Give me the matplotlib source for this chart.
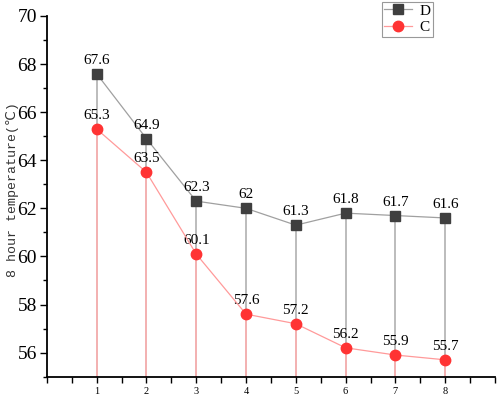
import matplotlib
matplotlib.use("Agg")
import matplotlib.pyplot as plt
from matplotlib.ticker import MultipleLocator

plt.rcParams['font.family'] = ['Liberation Serif', 'DejaVu Serif']

# data
hours = [1, 2, 3, 4, 5, 6, 7, 8]
temp_d = [67.6, 64.9, 62.3, 62.0, 61.3, 61.8, 61.7, 61.6]
temp_c = [65.3, 63.5, 60.1, 57.6, 57.2, 56.2, 55.9, 55.7]

fig = plt.figure(figsize=(4.98, 3.99), dpi=100)
ax = fig.add_axes([0.094, 0.056, 0.9, 0.904])

ymin = 55
# drop lines
ax.vlines(hours, ymin, temp_d, color="#b0b0b0", lw=1.2, zorder=1)
ax.vlines(hours, ymin, temp_c, color="#ffb0b0", lw=1.2, zorder=2)

ax.plot(hours, temp_d, color="#a0a0a0", lw=0.9, marker="s", ms=6.5,
        mfc="#3f3f3f", mec="#3f3f3f", label="D", zorder=3)
ax.plot(hours, temp_c, color="#ff9a9a", lw=0.9, marker="o", ms=7.5,
        mfc="#ff3333", mec="#ff3333", label="C", zorder=4)

for x, y in zip(hours, temp_d):
    ax.annotate(f"{y:g}", (x, y), xytext=(0, 5), textcoords="offset points",
                ha="center", va="bottom", fontsize=11)
for x, y in zip(hours, temp_c):
    ax.annotate(f"{y:g}", (x, y), xytext=(0, 5), textcoords="offset points",
                ha="center", va="bottom", fontsize=11)

ax.set_xlim(0, 9)
ax.set_ylim(ymin, 70)
ax.set_xticks(hours)
ax.xaxis.set_minor_locator(MultipleLocator(0.5))
ax.yaxis.set_major_locator(MultipleLocator(2))
ax.yaxis.set_minor_locator(MultipleLocator(1))
ax.tick_params(axis="x", labelsize=7.5, length=4, width=1, direction="out")
ax.tick_params(axis="x", which="minor", length=4, width=1)
ax.tick_params(axis="y", labelsize=14, length=5, width=1, direction="out", pad=2)
ax.tick_params(axis="y", which="minor", length=3, width=1)

for s in ["top", "right"]:
    ax.spines[s].set_visible(False)
for s in ["left", "bottom"]:
    ax.spines[s].set_linewidth(1.3)

ax.set_ylabel("8 hour temperature(℃)", fontsize=9.5,
              family=["Liberation Mono", "DejaVu Sans"], color="#333333")
ax.yaxis.set_label_coords(-0.062, 0.52)

leg = ax.legend(loc="upper left", bbox_to_anchor=(0.748, 1.04), fontsize=11,
                frameon=True, fancybox=False, edgecolor="#808080",
                handlelength=1.8, borderpad=0.15, labelspacing=0.2,
                handletextpad=0.5, borderaxespad=0)
leg.get_frame().set_linewidth(0.8)

fig.savefig("out.png", dpi=100)
